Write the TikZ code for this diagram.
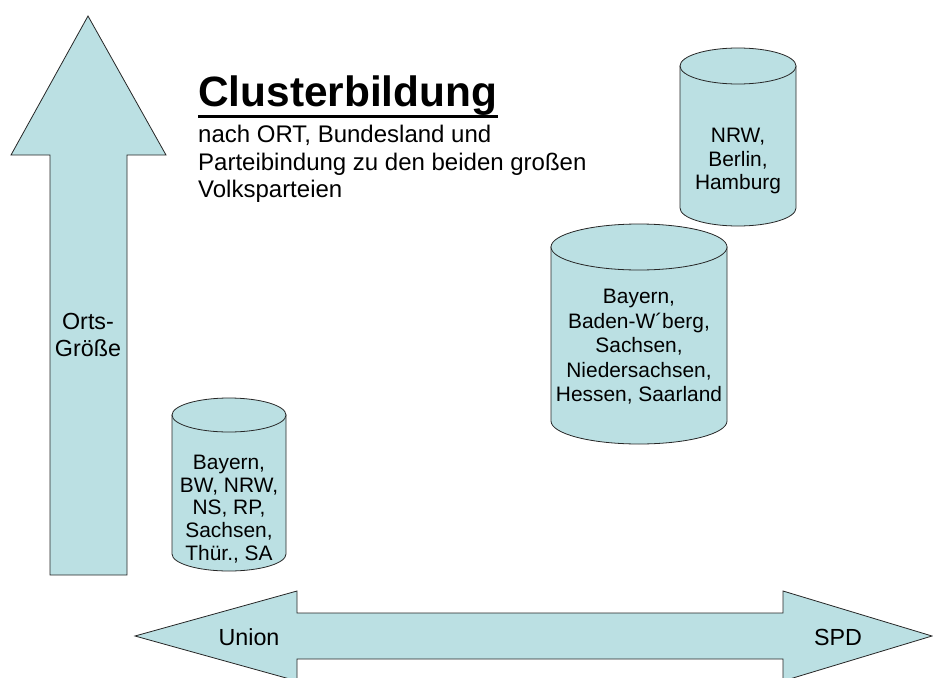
\documentclass[tikz,border=0pt]{standalone}
\usepackage{fontspec}
\setmainfont{Liberation Sans}
\definecolor{cylfill}{RGB}{187,224,227}
\tikzset{
  shapefill/.style={fill=cylfill, draw=black!85, line width=0.8pt, line join=miter},
  cyltext/.style={align=center, inner sep=0pt, font=\fontsize{20.9}{23.5}\selectfont},
  bigtext/.style={inner sep=0pt, font=\fontsize{23.3}{26.5}\selectfont},
}
\newcommand{\drawcyl}[5]{% cx, rx, ytop-center, ybottom-center, ry
  \path[shapefill] ({#1-#2},#3) -- ({#1-#2},#4)
    .. controls ({#1-#2},{#4+0.5523*#5}) and ({#1-0.5523*#2},{#4+#5}) .. (#1,{#4+#5})
    .. controls ({#1+0.5523*#2},{#4+#5}) and ({#1+#2},{#4+0.5523*#5}) .. ({#1+#2},#4)
    -- ({#1+#2},#3) -- cycle;
  \path[shapefill] (#1,#3) ellipse [x radius=#2pt, y radius=#5pt];
}
\begin{document}
\begin{tikzpicture}[x=1pt,y=-1pt]
\useasboundingbox (0,0) rectangle (933,677);
\clip (0,0) rectangle (933,677);

% vertical arrow
\path[shapefill] (88,16) -- (166,155) -- (127,155) -- (127,575) -- (50,575) -- (50,155) -- (11,155) -- cycle;
\node[bigtext, align=center] (orts) at (88,335) {Orts-\\Größe};

% horizontal double arrow
\path[shapefill] (135,636) -- (297,591) -- (297,613) -- (783,613) -- (783,591) -- (932,636)
  -- (783,681) -- (783,659) -- (297,659) -- (297,681) -- cycle;
\node[bigtext] (union) at (249,637) {Union};
\node[bigtext] (spd) at (838,637) {SPD};

% title
\node[anchor=base west, inner sep=0pt, font=\bfseries\fontsize{42.4}{48}\selectfont] (title) at (198,106) {Clusterbildung};
\fill ([yshift=-8.5pt]title.base west) rectangle ([yshift=-11.5pt]title.base east);
\node[inner sep=0pt, font=\fontsize{24}{27.5}\selectfont, anchor=north west, align=left] (sub) at (198,125)
  {nach ORT, Bundesland und\\Parteibindung zu den beiden großen\\Volksparteien};

% cylinders
\drawcyl{738}{58}{66}{208}{18}
\node[cyltext] (c3) at (738,161) {NRW,\\Berlin,\\Hamburg};

\drawcyl{639}{88}{247}{421}{23}
\node[cyltext, font=\fontsize{20.9}{24.5}\selectfont] (c2) at (639,347) {Bayern,\\Baden-W´berg,\\Sachsen,\\Niedersachsen,\\Hessen, Saarland};

\drawcyl{229}{57}{415}{554}{17}
\node[cyltext, font=\fontsize{20.9}{22.8}\selectfont] (c1) at (229,509) {Bayern,\\BW, NRW,\\NS, RP,\\Sachsen,\\Thür., SA};
\end{tikzpicture}
\end{document}
